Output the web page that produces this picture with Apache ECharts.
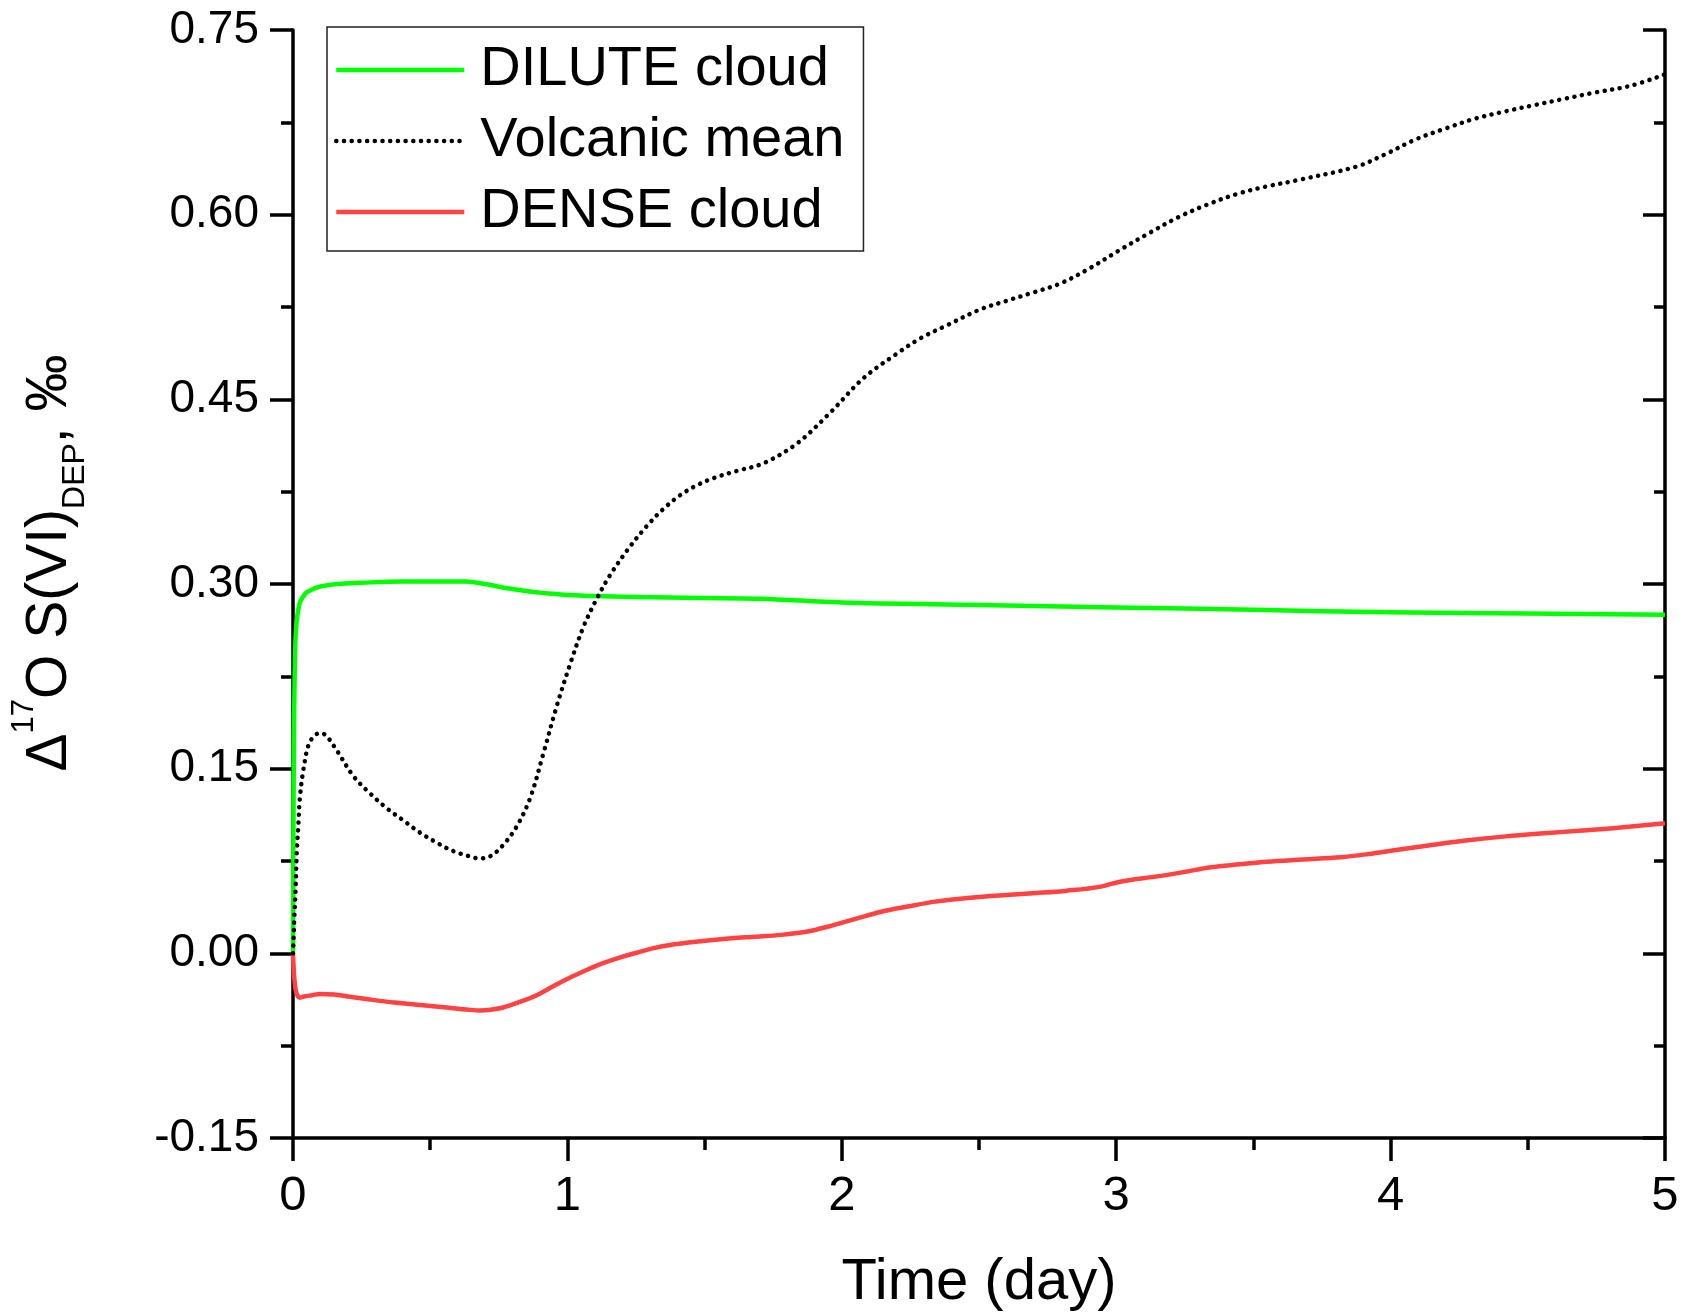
<!DOCTYPE html>
<html>
<head>
<meta charset="utf-8">
<script src="https://cdn.jsdelivr.net/npm/echarts@6/dist/echarts.min.js"></script>
<style>
html,body{margin:0;padding:0;background:#fff;}
#chart{width:1683px;height:1314px;}
</style>
</head>
<body>
<div id="chart"></div>
<script>
// ---- data ----
const seriesNames = ['DILUTE cloud', 'Volcanic mean', 'DENSE cloud'];

const diluteTime = [0, 0.001, 0.002, 0.0036, 0.006, 0.009, 0.0134, 0.02, 0.025, 0.035, 0.049, 0.074, 0.1, 0.16, 0.25, 0.4, 0.55, 0.63, 0.7, 0.77, 0.83, 0.9, 0.95, 1.0, 1.13, 1.37, 1.7, 2.0, 2.5, 3.0, 3.5, 4.0, 4.5, 5.0];
const diluteValue = [0, 0.06, 0.12, 0.18, 0.225, 0.255, 0.27, 0.28, 0.285, 0.289, 0.293, 0.296, 0.298, 0.3, 0.301, 0.302, 0.302, 0.302, 0.3, 0.297, 0.295, 0.293, 0.292, 0.291, 0.29, 0.289, 0.288, 0.285, 0.283, 0.281, 0.279, 0.277, 0.276, 0.275];

const volcanicTime = [0, 0.002, 0.005, 0.009, 0.0134, 0.02, 0.025, 0.037, 0.056, 0.075, 0.097, 0.12, 0.159, 0.22, 0.28, 0.341, 0.402, 0.463, 0.523, 0.584, 0.64, 0.68, 0.72, 0.766, 0.815, 0.864, 0.912, 0.96, 1.01, 1.058, 1.107, 1.155, 1.22, 1.289, 1.35, 1.41, 1.47, 1.532, 1.62, 1.714, 1.836, 1.957, 2.078, 2.2, 2.29, 2.382, 2.504, 2.6, 2.686, 2.795, 2.9, 3.011, 3.12, 3.227, 3.33, 3.443, 3.55, 3.66, 3.875, 3.98, 4.09, 4.2, 4.308, 4.42, 4.524, 4.63, 4.74, 4.88, 5.0];
const volcanicValue = [0, 0.012, 0.03, 0.05, 0.08, 0.106, 0.126, 0.148, 0.169, 0.176, 0.179, 0.177, 0.165, 0.144, 0.13, 0.118, 0.108, 0.098, 0.09, 0.083, 0.079, 0.077, 0.079, 0.088, 0.103, 0.126, 0.162, 0.2, 0.235, 0.265, 0.288, 0.307, 0.328, 0.347, 0.361, 0.372, 0.38, 0.386, 0.392, 0.398, 0.414, 0.439, 0.467, 0.487, 0.5, 0.51, 0.523, 0.53, 0.536, 0.544, 0.556, 0.571, 0.585, 0.598, 0.608, 0.617, 0.623, 0.628, 0.639, 0.649, 0.661, 0.67, 0.678, 0.684, 0.689, 0.694, 0.699, 0.705, 0.714];

const denseTime = [0, 0.004, 0.01, 0.018, 0.025, 0.04, 0.07, 0.098, 0.15, 0.2, 0.28, 0.37, 0.463, 0.56, 0.64, 0.682, 0.72, 0.766, 0.82, 0.888, 0.95, 1.01, 1.07, 1.13, 1.19, 1.253, 1.31, 1.374, 1.45, 1.559, 1.67, 1.78, 1.87, 1.949, 2.05, 2.144, 2.24, 2.34, 2.47, 2.6, 2.71, 2.82, 2.94, 3.014, 3.143, 3.245, 3.345, 3.45, 3.548, 3.68, 3.817, 3.92, 4.02, 4.15, 4.29, 4.42, 4.559, 4.7, 4.829, 5.0];
const denseValue = [0, -0.018, -0.03, -0.035, -0.036, -0.035, -0.034, -0.033, -0.0335, -0.035, -0.0375, -0.04, -0.042, -0.044, -0.0458, -0.0464, -0.0458, -0.044, -0.04, -0.034, -0.0265, -0.0197, -0.0135, -0.008, -0.0035, 0.0005, 0.004, 0.0068, 0.009, 0.0114, 0.0133, 0.015, 0.0175, 0.0216, 0.028, 0.0338, 0.038, 0.042, 0.0452, 0.0474, 0.049, 0.0509, 0.054, 0.0582, 0.0623, 0.066, 0.0699, 0.0723, 0.0744, 0.0762, 0.078, 0.0807, 0.084, 0.088, 0.092, 0.095, 0.0975, 0.0998, 0.102, 0.1056];

const xMin = 0, xMax = 5, xInterval = 1;
const yMin = -0.15, yMax = 0.75, yInterval = 0.15;
const xTitle = 'Time (day)';

// ---- build ----
const pair = (ts, vs) => ts.map((t, i) => [t, vs[i]]);
const FONT = 'Arial, "Liberation Sans", Helvetica, sans-serif';
const AX = 3.5;
const LW = 4.5;

const chart = echarts.init(document.getElementById('chart'), null, {renderer: 'canvas'});

const yAxisCommon = {
  type: 'value', min: yMin, max: yMax, interval: yInterval,
  splitLine: {show: false},
  axisLine: {show: true, onZero: false, lineStyle: {color: '#000', width: AX}},
  minorTick: {show: true, splitNumber: 2, length: 12, lineStyle: {color: '#000', width: AX}},
  minorSplitLine: {show: false}
};

chart.setOption({
  backgroundColor: '#fff',
  animation: false,
  grid: {left: 293, right: 18, top: 30, bottom: 176, containLabel: false, outerBoundsMode: 'none'},
  legend: {
    orient: 'vertical', left: 327, top: 27,
    data: seriesNames,
    backgroundColor: '#fff',
    borderColor: '#222', borderWidth: 1.5, borderRadius: 0,
    padding: [13, 19, 9, 7],
    itemGap: 11, itemWidth: 128, itemHeight: 14,
    itemStyle: {color: 'rgba(0,0,0,0)', borderColor: 'rgba(0,0,0,0)', borderWidth: 0, opacity: 0},
    lineStyle: {width: LW},
    textStyle: {fontFamily: FONT, fontSize: 56, lineHeight: 60, color: '#000', padding: [0, 0, 0, 11]}
  },
  xAxis: {
    type: 'value', min: xMin, max: xMax, interval: xInterval,
    name: xTitle, nameLocation: 'middle', nameGap: 116,
    nameTextStyle: {fontFamily: FONT, fontSize: 58, lineHeight: 58, color: '#000'},
    splitLine: {show: false},
    axisLine: {show: true, onZero: false, lineStyle: {color: '#000', width: AX}},
    axisTick: {show: true, inside: false, length: 23, lineStyle: {color: '#000', width: AX}},
    minorTick: {show: true, splitNumber: 2, length: 12, lineStyle: {color: '#000', width: AX}},
    axisLabel: {fontFamily: FONT, fontSize: 49, lineHeight: 49, color: '#000', margin: 34,
      formatter: v => String(v)}
  },
  yAxis: [
    Object.assign({}, yAxisCommon, {
      position: 'left',
      name: '{a|\u0394}{sup|17}{a|O S(VI)}{sub|DEP}{a|, \u2030}',
      nameLocation: 'middle', nameGap: 202, nameRotate: 90,
      nameTextStyle: {
        color: '#000', padding: [0, 0, 0, 42],
        rich: {
          a: {fontFamily: FONT, fontSize: 57, lineHeight: 82, color: '#000', verticalAlign: 'middle'},
          sup: {fontFamily: FONT, fontSize: 31, lineHeight: 31, color: '#000', verticalAlign: 'top'},
          sub: {fontFamily: FONT, fontSize: 32, lineHeight: 32, color: '#000', verticalAlign: 'bottom'}
        }
      },
      axisTick: {show: true, inside: false, length: 23, lineStyle: {color: '#000', width: AX}},
      minorTick: {show: true, inside: false, splitNumber: 2, length: 12, lineStyle: {color: '#000', width: AX}},
      axisLabel: {fontFamily: FONT, fontSize: 46, color: '#000', margin: 34,
        formatter: v => v.toFixed(2)}
    }),
    Object.assign({}, yAxisCommon, {
      position: 'right',
      axisTick: {show: true, inside: true, length: 22, lineStyle: {color: '#000', width: AX}},
      minorTick: {show: true, splitNumber: 2, length: 11, lineStyle: {color: '#000', width: AX}},
      axisLabel: {show: false}
    })
  ],
  series: [
    {
      name: seriesNames[0], type: 'line', yAxisIndex: 0,
      data: pair(diluteTime, diluteValue),
      symbol: 'none', smooth: 0.35,
      lineStyle: {color: '#00ff00', width: LW, join: 'round'}, itemStyle: {color: '#00ff00'}, z: 3
    },
    {
      name: seriesNames[1], type: 'line', yAxisIndex: 0,
      data: pair(volcanicTime, volcanicValue),
      symbol: 'none', smooth: 0.35,
      lineStyle: {color: '#000', width: LW, type: [0.1, 7.6], cap: 'round'}, itemStyle: {color: '#000'}, z: 4
    },
    {
      name: seriesNames[2], type: 'line', yAxisIndex: 0,
      data: pair(denseTime, denseValue),
      symbol: 'none', smooth: 0.35,
      lineStyle: {color: '#ff4242', width: LW, join: 'round'}, itemStyle: {color: '#ff4242'}, z: 3
    }
  ]
});
</script>
</body>
</html>
